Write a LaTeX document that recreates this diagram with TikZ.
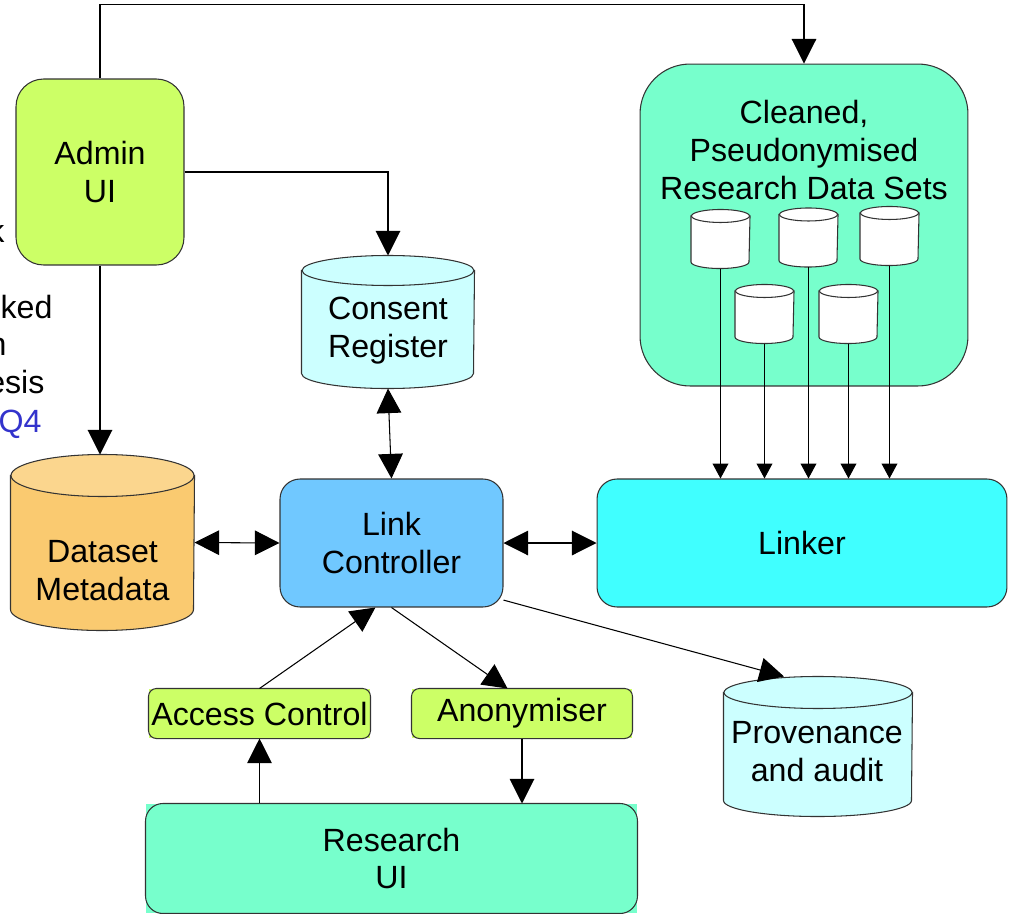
\documentclass[tikz,border=0pt]{standalone}
\usepackage{fontspec}
\setmainfont{Liberation Sans}
\usetikzlibrary{arrows.meta,calc}

\definecolor{uigreen}{HTML}{CCFF66}
\definecolor{setgreen}{HTML}{77FFCC}
\definecolor{storecyan}{HTML}{CCFFFF}
\definecolor{metabody}{HTML}{FACA70}
\definecolor{metatop}{HTML}{FBD68E}
\definecolor{ctrlblue}{HTML}{70C8FF}
\definecolor{linkcyan}{HTML}{40FFFF}
\definecolor{qblue}{HTML}{3333CC}

% drum round a store node: node, x radius, y radius (px), body fill, end fill
\newcommand{\drawdrum}[5]{%
  \path[draw=black!80,fill=#4] ($(#1.north west)+(0,#3)$) -- ($(#1.south west)+(0,-#3)$)
    arc[start angle=180,end angle=360,x radius=#2*0.02cm,y radius=#3*0.02cm]
    -- ($(#1.north east)+(0,#3)$) -- cycle;
  \path[draw=black!80,fill=#5] ($(#1.north)+(0,#3)$) ellipse[x radius=#2*0.02cm,y radius=#3*0.02cm];
}

\begin{document}
\begin{tikzpicture}[x=0.02cm,y=-0.02cm,>={Triangle[width=14pt,length=14pt]},
  line width=0.6pt,font=\fontsize{18.3}{21.6}\selectfont,
  box node/.style={rectangle,rounded corners=0.4cm,draw=black!80,align=center,inner sep=0pt},
  tag node/.style={rectangle,fill=uigreen,align=center,inner sep=0pt,minimum height=0.98cm},
  store node/.style={rectangle,inner sep=0pt},
  set node/.style={store node,minimum width=1.16cm,minimum height=1.16cm},
  frag node/.style={anchor=base east,inner sep=0pt},
  set arrow/.style={-{Triangle[width=9pt,length=8.5pt]}}]

  \useasboundingbox (0,0) rectangle (1009,914);

  \node[box node,fill=uigreen,rounded corners=0.55cm,minimum width=3.36cm,minimum height=3.72cm] (admin) at (100,172) {Admin\\UI};
  \node[box node,fill=setgreen,rounded corners=1cm,minimum width=6.56cm,minimum height=6.44cm] (cleaned) at (804,225) {};
  \node[align=center] (cleanedtext) at (804,150) {Cleaned,\\Pseudonymised\\Research Data Sets};
  \node[set node] (d1) at (720.5,239) {};
  \node[set node] (d2) at (808.5,237.5) {};
  \node[set node] (d3) at (889.5,236) {};
  \node[set node] (d4) at (764.5,314) {};
  \node[set node] (d5) at (848.5,314) {};
  \drawdrum{d1}{29}{6.5}{white}{white}
  \drawdrum{d2}{29}{6.5}{white}{white}
  \drawdrum{d3}{29}{6.5}{white}{white}
  \drawdrum{d4}{29}{6.5}{white}{white}
  \drawdrum{d5}{29}{6.5}{white}{white}

  \node[store node,minimum width=3.44cm,minimum height=2.64cm] (consent) at (388,322) {};
  \drawdrum{consent}{86}{15}{storecyan}{storecyan}
  \node[align=center] (consenttext) at (388,331) {Consent\\Register};

  \node[store node,minimum width=3.66cm,minimum height=3.5cm] (meta) at (102.5,542.5) {};
  \drawdrum{meta}{91.5}{21}{metabody}{metatop}
  \node[align=center] (metatext) at (102.5,571) {Dataset\\Metadata};

  \node[box node,fill=ctrlblue,minimum width=4.46cm,minimum height=2.56cm] (lc) at (391.5,543) {Link\\Controller};
  \node[box node,fill=linkcyan,minimum width=8.2cm,minimum height=2.56cm] (linker) at (802,543) {Linker};
  \node[tag node,minimum width=4.42cm] (ac) at (259.5,713.5) {Access Control};
  \node[tag node,minimum width=4.4cm] (an) at (522,713.5) {Anonymiser};
  \node[tag node,fill=setgreen,minimum width=9.82cm,minimum height=2.18cm] (rui) at (391.5,858.5) {Research\\UI};
  \draw[draw=black!80,rounded corners=0.16cm] (ac.south west) rectangle (ac.north east);
  \draw[draw=black!80,rounded corners=0.16cm] (an.south west) rectangle (an.north east);
  \draw[draw=black!80,rounded corners=0.35cm] (rui.south west) rectangle (rui.north east);

  \node[store node,minimum width=3.76cm,minimum height=2.78cm] (prov) at (818,746.5) {};
  \drawdrum{prov}{94}{16}{storecyan}{storecyan}
  \node[align=center] (provtext) at (817,752) {Provenance\\and audit};

  \node[frag node] (frag1) at (5,242) {k};
  \node[frag node] (frag2) at (53,318) {nked};
  \node[frag node] (frag3) at (7,355) {n};
  \node[frag node] (frag4) at (45,393) {esis};
  \node[frag node,text=qblue] (frag5) at (42,432) {Q4};

  \draw[->] (admin.north) -- ++(0,-74) -| (cleaned.north);
  \draw[->] (admin.east) -| (consent.north);
  \draw[->] (admin.south) -- (admin.south |- meta.north);

  \path[<->]
    (consent.south) edge (lc.north)
    (meta.east) edge (lc.west)
    (lc.east) edge (linker.west)
    ;

  \path[set arrow]
    (d1.south) edge (d1.south |- linker.north)
    (d2.south) edge (d2.south |- linker.north)
    (d3.south) edge (d3.south |- linker.north)
    (d4.south) edge (d4.south |- linker.north)
    (d5.south) edge (d5.south |- linker.north)
    ;

  \draw[->] (ac.north) -- (lc.256);
  \draw[->] (lc.south) -- (an.120);
  \draw[->] (ac.south |- rui.north) -- (ac.south);
  \draw[->] (an.south) -- (an.south |- rui.north);
  \draw[->] (lc.-27) -- ($(prov.north)+(-34,0)$);

\end{tikzpicture}
\end{document}
